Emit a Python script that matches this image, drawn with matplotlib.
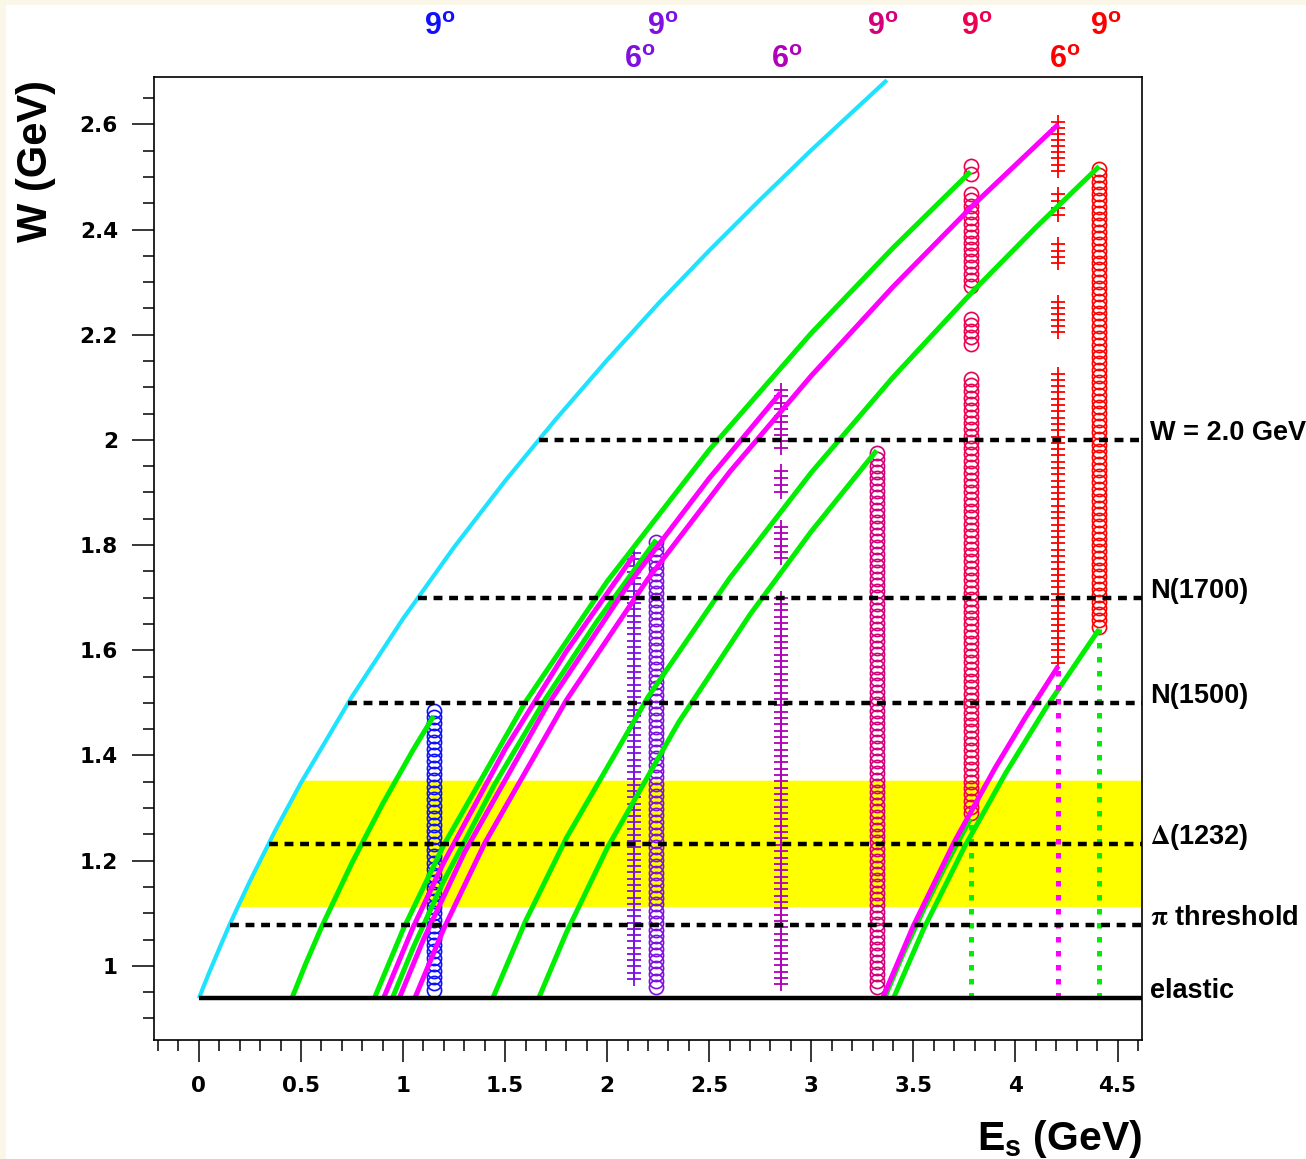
import numpy as np
import matplotlib
matplotlib.use('Agg')
import matplotlib.pyplot as plt
from matplotlib.ticker import MultipleLocator, FuncFormatter
from matplotlib.patches import Rectangle
import matplotlib.transforms as mtransforms

plt.rcParams['font.family'] = ['Liberation Sans', 'DejaVu Sans']
plt.rcParams['font.weight'] = 'bold'
plt.rcParams['mathtext.fontset'] = 'custom'
plt.rcParams['mathtext.rm'] = 'Liberation Sans:bold'
plt.rcParams['mathtext.bf'] = 'Liberation Sans:bold'
plt.rcParams['mathtext.it'] = 'Liberation Sans:bold'

# ---------------- data ----------------
M_P = 0.938  # elastic line

# kinematic limit (cyan)
E_cyan = [0.0, 0.02, 0.05, 0.1, 0.15, 0.2, 0.25, 0.375, 0.5, 0.75, 1.0, 1.25,
          1.5, 1.75, 2.0, 2.25, 2.5, 2.75, 3.0, 3.37]
W_cyan = [0.938, 0.958, 0.987, 1.033, 1.078, 1.120, 1.161, 1.258, 1.348, 1.512,
          1.660, 1.796, 1.922, 2.040, 2.152, 2.259, 2.360, 2.457, 2.551, 2.684]

# 9 degree integration paths (green)
green_lines = [
    ([0.455, 0.52, 0.6, 0.75, 0.9, 1.05, 1.15],
     [0.938, 1.001, 1.073, 1.196, 1.308, 1.411, 1.475]),
    ([0.947, 1.05, 1.2, 1.45, 1.7, 1.95, 2.24],
     [0.938, 1.035, 1.162, 1.346, 1.509, 1.655, 1.810]),
    ([1.664, 1.8, 2.0, 2.35, 2.7, 3.0, 3.32],
     [0.938, 1.063, 1.224, 1.463, 1.668, 1.826, 1.980]),
    ([0.859, 1.0, 1.2, 1.6, 2.0, 2.5, 3.0, 3.4, 3.78],
     [0.938, 1.069, 1.230, 1.502, 1.731, 1.981, 2.203, 2.365, 2.510]),
    ([3.358, 3.45, 3.55, 3.65, 3.78],
     [0.938, 1.023, 1.107, 1.185, 1.280]),
    ([1.439, 1.6, 1.8, 2.2, 2.6, 3.0, 3.4, 3.8, 4.1, 4.41],
     [0.938, 1.085, 1.243, 1.511, 1.737, 1.938, 2.119, 2.286, 2.404, 2.520]),
    ([3.402, 3.55, 3.75, 3.95, 4.15, 4.41],
     [0.938, 1.070, 1.226, 1.365, 1.491, 1.640]),
]

# 6 degree integration paths (magenta)
magenta_lines = [
    ([0.904, 1.05, 1.2, 1.5, 1.8, 2.13],
     [0.938, 1.074, 1.197, 1.412, 1.598, 1.780]),
    ([0.981, 1.1, 1.3, 1.7, 2.1, 2.5, 2.85],
     [0.938, 1.050, 1.215, 1.491, 1.723, 1.927, 2.090]),
    ([1.057, 1.2, 1.4, 1.8, 2.2, 2.6, 3.0, 3.4, 3.8, 4.21],
     [0.938, 1.071, 1.233, 1.505, 1.736, 1.939, 2.122, 2.291, 2.449, 2.600]),
    ([3.349, 3.5, 3.7, 3.9, 4.05, 4.21],
     [0.938, 1.076, 1.235, 1.376, 1.473, 1.570]),
]

# vertical dotted paths at fixed Es
vdot_E = [3.78, 4.21, 4.41]
vdot_Wtop = [1.28, 1.57, 1.64]
vdot_color = ['#00ee00', '#ff00ff', '#00ee00']

# horizontal reference lines
ref_W = [2.0, 1.70, 1.50, 1.232, 1.078]
ref_label = ['W = 2.0 GeV', 'N(1700)', 'N(1500)', r'$\mathrm{\Delta}$(1232)',
             r'$\mathrm{\pi}$ threshold']
band_W = [1.112, 1.352]

# measured settings: beam energy, angle, marker, colour, W ranges
col_E = [1.15, 2.13, 2.24, 2.85, 3.32, 3.78, 4.21, 4.41]
col_angle = ['9', '6', '9', '6', '9', '9', '6', '9']
col_marker = ['o', '+', 'o', '+', 'o', 'o', '+', 'o']
col_color = ['#1010ff', '#7f10e0', '#7f10e0', '#b000b8', '#d4007a', '#ee0050',
             '#ff0000', '#ff0000']
col_segments = [
    [(0.955, 1.485)],
    [(0.975, 1.785)],
    [(0.960, 1.805)],
    [(0.965, 1.700), (1.775, 1.835), (1.900, 1.940), (1.985, 2.095)],
    [(0.960, 1.975)],
    [(1.290, 2.116), (2.183, 2.230), (2.293, 2.468), (2.506, 2.521)],
    [(1.576, 2.126), (2.206, 2.263), (2.336, 2.372), (2.427, 2.467), (2.512, 2.605)],
    [(1.645, 2.515)],
]
marker_step = 0.012

# ---------------- figure ----------------
W_PX, H_PX = 1306, 1159
fig = plt.figure(figsize=(W_PX / 100, H_PX / 100), dpi=100, facecolor='#faf7e9')
fig.add_artist(Rectangle((6 / W_PX, 0), 1, 1 - 5 / H_PX, transform=fig.transFigure,
                         facecolor='white', edgecolor='none', zorder=-10))

ax = fig.add_axes([154 / W_PX, 119 / H_PX, 988 / W_PX, 963 / H_PX])
XMIN, XMAX = -0.22, 4.62
ax.set_xlim(XMIN, XMAX)
ax.set_ylim(0.859, 2.69)
ax.set_facecolor('white')

Ec = np.array(E_cyan)
Wc = np.array(W_cyan)


def e_on_cyan(w):
    return float(np.interp(w, Wc, Ec))


# yellow band bounded by kinematic limit
lo, hi = band_W
inside = (Wc > lo) & (Wc < hi)
bx = [e_on_cyan(lo)] + list(Ec[inside]) + [e_on_cyan(hi), XMAX, XMAX]
by = [lo] + list(Wc[inside]) + [hi, hi, lo]
ax.fill(bx, by, color='#ffff00', lw=0, zorder=1)

# measured points
for E, segs, mk, c in zip(col_E, col_segments, col_marker, col_color):
    Ws = np.concatenate([np.linspace(a, b, max(2, int(round((b - a) / marker_step)) + 1))
                         for a, b in segs])
    if mk == 'o':
        ax.plot(np.full_like(Ws, E), Ws, ls='none', marker='o', ms=10.2, mfc='none',
                mec=c, mew=1.2, zorder=2)
    else:
        ax.plot(np.full_like(Ws, E), Ws, ls='none', marker='+', ms=10, mec=c,
                mew=1.3, zorder=2)

# kinematic curves
ax.plot(E_cyan, W_cyan, color='#1ee3ff', lw=3.0, zorder=3, solid_capstyle='butt')
for xs, ys in green_lines:
    ax.plot(xs, ys, color='#00ee00', lw=3.6, zorder=3, solid_capstyle='butt')
for xs, ys in magenta_lines:
    ax.plot(xs, ys, color='#ff00ff', lw=3.6, zorder=3, solid_capstyle='butt')
for E, wt, c in zip(vdot_E, vdot_Wtop, vdot_color):
    ax.plot([E, E], [M_P, wt], color=c, lw=3.6, dashes=(1.1, 1.7), zorder=3)

# reference lines and labels
lab_tr = mtransforms.blended_transform_factory(ax.transAxes, ax.transData)
for w, lab in zip(ref_W, ref_label):
    ax.plot([e_on_cyan(w), XMAX], [w, w], color='k', lw=3.2, dashes=(2.0, 1.5), zorder=5)
    kw = {}
    if '$' in lab:
        kw['math_fontfamily'] = 'stix'
    ax.text(1.008, w, lab, transform=lab_tr, fontsize=19.5, fontweight='bold',
            ha='left', va='baseline', clip_on=False, **kw)
ax.plot([0, XMAX], [M_P, M_P], color='k', lw=3.2, zorder=5, solid_capstyle='butt')
ax.text(1.008, M_P, 'elastic', transform=lab_tr, fontsize=19.5, fontweight='bold',
        ha='left', va='baseline', clip_on=False)

# angle labels on top
top_tr = mtransforms.blended_transform_factory(ax.transData, ax.transAxes)
for E, ang, c in zip(col_E, col_angle, col_color):
    yrow = 1.0436 if ang == '9' else 1.0093
    ax.text(E + 0.03, yrow, r'$%s^{o}$' % ang, transform=top_tr, color=c,
            fontsize=22, ha='center', va='baseline', clip_on=False)

# axes styling
ax.xaxis.set_major_locator(MultipleLocator(0.5))
ax.xaxis.set_minor_locator(MultipleLocator(0.1))
ax.yaxis.set_major_locator(MultipleLocator(0.2))
ax.yaxis.set_minor_locator(MultipleLocator(0.05))
fmt = FuncFormatter(lambda v, p: '0' if abs(v) < 1e-9 else '%g' % round(v, 3))
ax.xaxis.set_major_formatter(fmt)
ax.yaxis.set_major_formatter(fmt)
ax.tick_params(which='major', direction='out', length=16, width=1.1,
               pad=10, top=False, right=False)
ax.tick_params(which='minor', direction='out', length=8, width=1.1, top=False, right=False)
for lbl in ax.get_xticklabels() + ax.get_yticklabels():
    lbl.set_fontweight('bold')
    lbl.set_fontfamily('DejaVu Sans')
    lbl.set_fontsize(15.5)
for s in ax.spines.values():
    s.set_linewidth(1.2)

fig.text(1142 / W_PX, 9 / H_PX, r'$E_{s}$ (GeV)', ha='right', va='baseline',
         fontsize=29.5, fontweight='bold')
fig.text(56 / W_PX, 1 - 80 / H_PX, 'W (GeV)', rotation=90, ha='right', va='top',
         fontsize=30, fontweight='bold')

fig.savefig('out.png', dpi=100, facecolor=fig.get_facecolor())
